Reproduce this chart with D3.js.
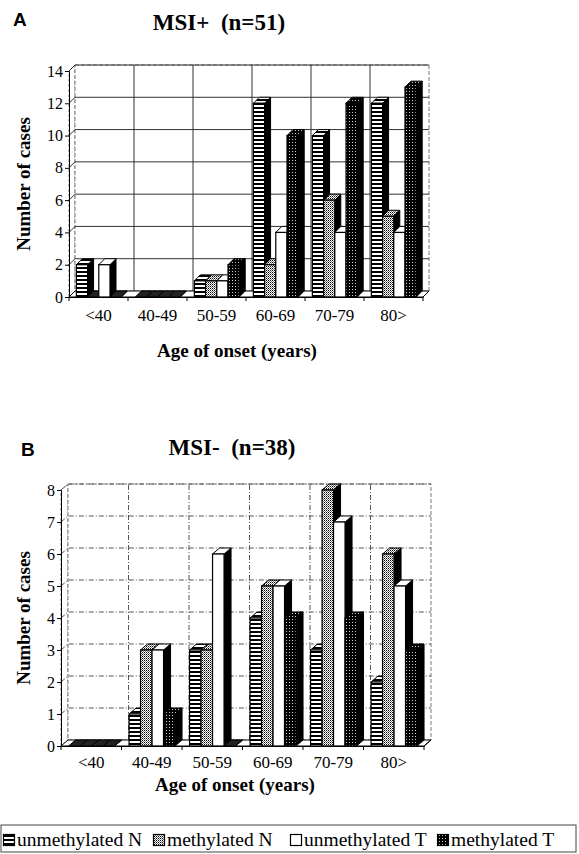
<!DOCTYPE html>
<html>
<head>
<meta charset="utf-8">
<script src="https://cdn.jsdelivr.net/npm/d3@7"></script>
<style>
  body { margin: 0; background: #fff; }
  text { font-family: "Liberation Serif", "Times New Roman", serif; fill: #000; }
</style>
</head>
<body>
<svg id="fig" width="579" height="854"></svg>
<script>
// data
var categories = ['<40', '40-49', '50-59', '60-69', '70-79', '80>']
var seriesNames = ['unmethylated N', 'methylated N', 'unmethylated T', 'methylated T']

// A: MSI+ (n=51)
var aUnmethN = [2, 0, 1, 12, 10, 12]
var aMethN = [0, 0, 1, 2, 6, 5]
var aUnmethT = [2, 0, 1, 4, 4, 4]
var aMethT = [0, 0, 2, 10, 12, 13]
var aTicks = [0, 2, 4, 6, 8, 10, 12, 14]

// B: MSI- (n=38)
var bUnmethN = [0, 1, 3, 4, 3, 2]
var bMethN = [0, 3, 3, 5, 8, 6]
var bUnmethT = [0, 3, 6, 5, 7, 5]
var bMethT = [0, 1, 0, 4, 4, 3]
var bTicks = [0, 1, 2, 3, 4, 5, 6, 7, 8]

var fills = ['url(#pStripe)', 'url(#pDots)', '#fff', 'url(#pDark)']
var serif = '"Liberation Serif", "Times New Roman", serif'

var svg = d3.select('#fig')
svg.append('rect').attr('width', 579).attr('height', 854).attr('fill', '#fff')

// patterns
var defs = svg.append('defs')
var p1 = defs.append('pattern').attr('id', 'pStripe').attr('patternUnits', 'userSpaceOnUse')
             .attr('width', 4).attr('height', 4)
p1.append('rect').attr('width', 4).attr('height', 4).attr('fill', '#000')
p1.append('rect').attr('y', 1).attr('width', 4).attr('height', 2).attr('fill', '#fff')

var p2 = defs.append('pattern').attr('id', 'pDots').attr('patternUnits', 'userSpaceOnUse')
             .attr('width', 2).attr('height', 2)
p2.append('rect').attr('width', 2).attr('height', 2).attr('fill', '#fff')
p2.append('rect').attr('width', 1).attr('height', 1).attr('fill', '#000')
p2.append('rect').attr('x', 1).attr('y', 1).attr('width', 1).attr('height', 1).attr('fill', '#777')

var p3 = defs.append('pattern').attr('id', 'pDark').attr('patternUnits', 'userSpaceOnUse')
             .attr('width', 3).attr('height', 3)
p3.append('rect').attr('width', 3).attr('height', 3).attr('fill', '#000')
p3.append('rect').attr('x', 1).attr('y', 1).attr('width', 1).attr('height', 1).attr('fill', '#ccc')

var pts = function (arr) { return arr.map(function (p) { return p.join(',') }).join(' ') }

var drawPanel = function (cfg) {
  var g = svg.append('g')
  var dx = cfg.dx
  var dy = cfg.dy
  var max = cfg.ticks[cfg.ticks.length - 1]

  var x = d3.scaleBand().domain(categories).range([cfg.x0, cfg.x1])
  var w = x.bandwidth()
  var xs = d3.scaleBand().domain(seriesNames).range([w * 0.125, w * 0.125 + 4 * w * 0.19])
  var y = d3.scaleLinear().domain([0, max]).range([cfg.yZero, cfg.yTop])

  var gridStroke = cfg.dashed ? '#555' : '#333'
  var dash = cfg.dashed ? '5,2,1,2' : null

  // walls and floor
  g.append('polygon')
   .attr('points', pts([[cfg.x0, cfg.yZero], [cfg.x0, cfg.yTop], [cfg.x0 + dx, cfg.yTop + dy], [cfg.x0 + dx, cfg.yZero + dy]]))
   .attr('fill', '#fff').attr('stroke', '#666').attr('stroke-width', 0.8).attr('stroke-dasharray', '3,2')
  g.append('rect')
   .attr('x', cfg.x0 + dx).attr('y', cfg.yTop + dy)
   .attr('width', cfg.x1 - cfg.x0).attr('height', cfg.yZero - cfg.yTop)
   .attr('fill', '#fff').attr('stroke', '#555').attr('stroke-width', 0.8).attr('stroke-dasharray', '4,2')

  // horizontal grid (side wall + back wall)
  cfg.ticks.forEach(function (t) {
    if (t === 0) return
    g.append('polyline')
     .attr('points', pts([[cfg.x0, y(t)], [cfg.x0 + dx, y(t) + dy], [cfg.x1 + dx, y(t) + dy]]))
     .attr('fill', 'none').attr('stroke', gridStroke).attr('stroke-width', 1)
     .attr('stroke-dasharray', dash)
  })
  // vertical grid on back wall
  categories.forEach(function (c, i) {
    if (i === 0) return
    g.append('line')
     .attr('x1', x(c) + dx).attr('x2', x(c) + dx)
     .attr('y1', cfg.yZero + dy).attr('y2', cfg.yTop + dy)
     .attr('stroke', gridStroke).attr('stroke-width', 1).attr('stroke-dasharray', dash)
  })

  // floor
  g.append('polygon')
   .attr('points', pts([[cfg.x0, cfg.yZero], [cfg.x1, cfg.yZero], [cfg.x1 + dx, cfg.yZero + dy], [cfg.x0 + dx, cfg.yZero + dy]]))
   .attr('fill', '#fff').attr('stroke', '#000').attr('stroke-width', 1)

  // bars, left to right so each front face hides the previous side
  categories.forEach(function (c, i) {
    cfg.series.forEach(function (vals, j) {
      var v = vals[i]
      var bx = x(c) + xs(seriesNames[j])
      var bw = xs.bandwidth()
      var yt = y(v)
      var bar = g.append('g')
      bar.append('polygon')
         .attr('points', pts([[bx + bw, yt], [bx + bw + dx, yt + dy], [bx + bw + dx, cfg.yZero + dy], [bx + bw, cfg.yZero]]))
         .attr('fill', '#000').attr('stroke', '#000').attr('stroke-width', 1)
      bar.append('polygon')
         .attr('points', pts([[bx, yt], [bx + dx, yt + dy], [bx + bw + dx, yt + dy], [bx + bw, yt]]))
         .attr('fill', v > 0 ? fills[j] : '#222').attr('stroke', '#000').attr('stroke-width', 1)
      if (v > 0) {
        bar.append('rect')
           .attr('x', bx).attr('y', yt).attr('width', bw).attr('height', cfg.yZero - yt)
           .attr('fill', fills[j]).attr('stroke', '#000').attr('stroke-width', 1.2)
      }
    })
  })

  // front right floor edge
  g.append('line')
   .attr('x1', cfg.x1).attr('y1', cfg.yZero).attr('x2', cfg.x1 + dx).attr('y2', cfg.yZero + dy)
   .attr('stroke', '#000')

  // axes
  var yAxis = g.append('g')
               .attr('transform', 'translate(' + cfg.x0 + ',0)')
               .call(d3.axisLeft(y).tickValues(cfg.ticks).tickSize(4).tickPadding(2))
  yAxis.attr('font-family', serif).attr('font-size', 16)
  yAxis.select('.domain').attr('stroke', '#000')
  yAxis.selectAll('text').style('font-family', serif).style('font-size', '16px').attr('fill', '#000')

  var xAxis = g.append('g')
               .attr('transform', 'translate(0,' + cfg.yZero + ')')
               .call(d3.axisBottom(x).tickSize(0).tickPadding(cfg.labelPad).tickSizeOuter(0))
  xAxis.attr('font-family', serif).attr('font-size', 17)
  xAxis.select('.domain').attr('stroke', '#000')
  xAxis.selectAll('text').style('font-family', serif).style('font-size', '17px').attr('fill', '#000')

  categories.concat(['end']).forEach(function (c, i) {
    var tx = i < categories.length ? x(c) : cfg.x1
    g.append('line')
     .attr('x1', tx).attr('x2', tx).attr('y1', cfg.yZero).attr('y2', cfg.yZero + 4)
     .attr('stroke', '#000')
  })

  // titles
  svg.append('text')
     .attr('x', cfg.letterX).attr('y', cfg.letterY)
     .style('font-family', '"Liberation Sans", Arial, sans-serif')
     .style('font-weight', 'bold').style('font-size', '19px')
     .text(cfg.letter)

  svg.append('text')
     .attr('x', cfg.titleX).attr('y', cfg.titleY)
     .attr('text-anchor', 'middle')
     .style('font-family', serif)
     .style('font-weight', 'bold').style('font-size', '23px').style('white-space', 'pre')
     .text(cfg.title)

  svg.append('text')
     .attr('transform', 'translate(' + 30 + ',' + ((cfg.yZero + cfg.yTop) / 2) + ') rotate(-90)')
     .attr('text-anchor', 'middle')
     .style('font-family', serif)
     .style('font-weight', 'bold').style('font-size', '19px')
     .text('Number of cases')

  svg.append('text')
     .attr('x', cfg.xTitleX).attr('y', cfg.xTitleY)
     .attr('text-anchor', 'middle')
     .style('font-family', serif)
     .style('font-weight', 'bold').style('font-size', '19px')
     .text('Age of onset (years)')
}

drawPanel({
  series: [aUnmethN, aMethN, aUnmethT, aMethT],
  ticks: aTicks,
  x0: 69, x1: 423, yZero: 297, yTop: 71, dx: 6, dy: -6,
  dashed: false, labelPad: 12,
  letter: 'A', letterX: 13, letterY: 26, title: 'MSI+  (n=51)', titleX: 219, titleY: 30,
  xTitleX: 237, xTitleY: 357
})

drawPanel({
  series: [bUnmethN, bMethN, bUnmethT, bMethT],
  ticks: bTicks,
  x0: 61, x1: 424, yZero: 746, yTop: 490, dx: 7, dy: -6,
  dashed: true, labelPad: 10,
  letter: 'B', letterX: 21, letterY: 456, title: 'MSI-  (n=38)', titleX: 232, titleY: 455,
  xTitleX: 235, xTitleY: 791
})

// legend
var legend = svg.append('g').attr('id', 'legend')
legend.append('rect')
      .attr('x', 1).attr('y', 825).attr('width', 575).attr('height', 27)
      .attr('fill', '#fff').attr('stroke', '#444').attr('stroke-width', 1)

var legendX = [3, 153, 290, 437]
seriesNames.forEach(function (name, i) {
  legend.append('rect')
        .attr('x', legendX[i] + 0.5).attr('y', 834.5)
        .attr('width', 11).attr('height', 11)
        .attr('fill', fills[i]).attr('stroke', '#000').attr('stroke-width', 1.2)
  legend.append('text')
        .attr('x', legendX[i] + 14).attr('y', 846)
        .style('font-family', serif)
        .style('font-size', '19.5px')
        .text(name)
})
</script>
</body>
</html>
